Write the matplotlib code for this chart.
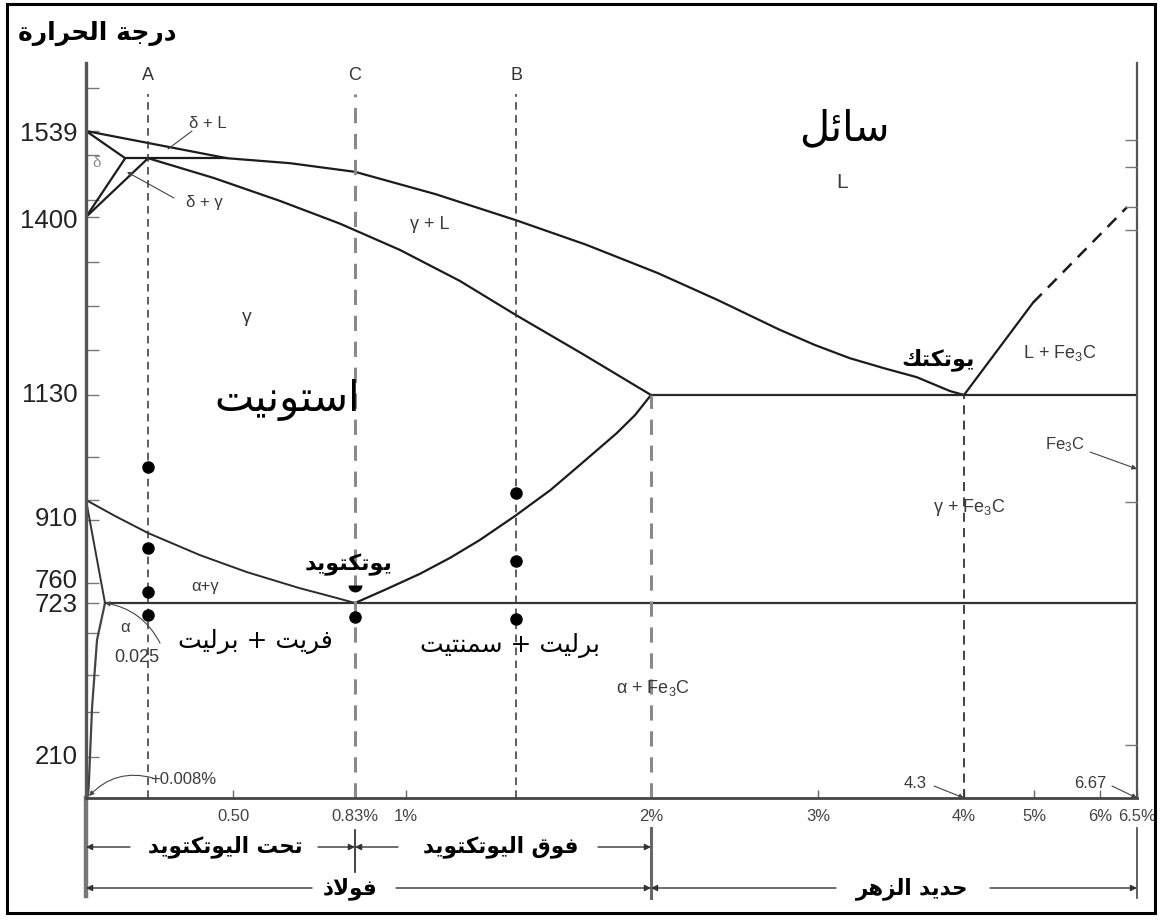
import numpy as np
import matplotlib
matplotlib.use('Agg')
import matplotlib.pyplot as plt
from matplotlib.patches import Rectangle

plt.rcParams['font.family'] = ['Liberation Sans', 'DejaVu Sans']
plt.rcParams['mathtext.fontset'] = 'custom'
plt.rcParams['mathtext.rm'] = 'Liberation Sans'
plt.rcParams['mathtext.default'] = 'regular'

# ---- data: carbon (wt %) and temperature (deg C) ----
liquidus_c = [0, 0.478, 0.654, 0.83, 1.12, 1.45, 1.735, 2.04, 2.40, 2.77, 2.98, 3.28,
              3.58, 3.88, 4.175, 4.3]
liquidus_t = [1539, 1495, 1487, 1473, 1437, 1395, 1358, 1315, 1274, 1229, 1206, 1186,
              1171, 1157, 1136, 1130]
solidus_c = [0.185, 0.429, 0.627, 0.789, 0.98, 1.22, 1.45, 1.722, 2.0]
solidus_t = [1495, 1463, 1426, 1390, 1350, 1303, 1251, 1192, 1130]
delta_top_c, delta_top_t = [0, 0.1], [1539, 1495]
delta_low_c, delta_low_t = [0.1, 0], [1495, 1400]
gamma_delta_c, gamma_delta_t = [0.185, 0], [1495, 1400]
peritectic_c, peritectic_t = [0.1, 0.478], [1495, 1495]
a3_c = [0, 0.062, 0.185, 0.377, 0.538, 0.68, 0.77, 0.83]
a3_t = [910, 881, 850, 810, 779, 750, 734, 723]
acm_c = [0.83, 0.93, 1.057, 1.18, 1.30, 1.445, 1.59, 1.72, 1.86, 1.935, 2.0]
acm_t = [723, 747, 776, 805, 837, 881, 931, 988, 1050, 1088, 1130]
gp_c, gp_t = [0, 0.025], [910, 723]
solvus_c = [0.025, 0.0145, 0.008, 0.0035, 0.002]
solvus_t = [723, 600, 376, 54, 0]
eutectoid_c, eutectoid_t = [0.025, 6.67], [723, 723]
eutectic_c, eutectic_t = [2.0, 6.67], [1130, 1130]
fe3c_liq_c, fe3c_liq_t = [4.3, 4.99], [1130, 1270]
fe3c_liq_dash_c, fe3c_liq_dash_t = [4.99, 6.49], [1270, 1416]

section_names = ['A', 'C', 'B']
section_c = [0.185, 0.83, 1.45]
section_top = 1600
name_t = 1630
limit_c = [2.0, 4.3]          # dashed lines below the eutectic line

dots_a_t = [979, 823, 743, 683]
dots_c_t = [676]
dots_b_t = [925, 799, 670]
half_dot_c_t = 756

xtick_vals = [0.5, 0.83, 1.0, 2.0, 3.0, 4.3, 5.0, 6.0, 6.67]
xtick_labels = ['0.50', '0.83%', '1%', '2%', '3%', '4%', '5%', '6%', '6.5%']
ytick_vals = [210, 723, 760, 910, 1130, 1400, 1539]
ytick_labels = ['210', '723', '760', '910', '1130', '1400', '1539']
yminor_left = [360, 483, 623, 874, 1000, 1198, 1265, 1332, 1427, 1500, 1610]
yminor_right = [250, 906, 1380, 1416, 1481, 1524]

# ---- layout: diagram is drawn on a stretched (non linear) grid ----
W, H = 1162, 923
X_KNOTS = [0, 0.025, 0.5, 0.83, 1.0, 2.0, 3.0, 4.3, 5.0, 6.0, 6.67]
X_PIX = [86, 105, 233, 355, 406, 651, 818, 964, 1034, 1100, 1137]
Y_KNOTS = [0, 210, 723, 910, 1130, 1400, 1539, 1650]
Y_PIX = [798, 757, 603, 500, 395, 217, 131, 63]


def make_scale(knots, pos):
    k = np.asarray(knots, float)
    p = np.asarray(pos, float)
    s0 = (p[1] - p[0]) / (k[1] - k[0])
    s1 = (p[-1] - p[-2]) / (k[-1] - k[-2])

    def fwd(v):
        v = np.asarray(v, float)
        out = np.interp(v, k, p)
        out = np.where(v < k[0], p[0] + (v - k[0]) * s0, out)
        return np.where(v > k[-1], p[-1] + (v - k[-1]) * s1, out)

    def inv(u):
        u = np.asarray(u, float)
        out = np.interp(u, p, k)
        out = np.where(u < p[0], k[0] + (u - p[0]) / s0, out)
        return np.where(u > p[-1], k[-1] + (u - p[-1]) / s1, out)
    return fwd, inv


x_fun = make_scale(X_KNOTS, X_PIX)
y_fun = make_scale(Y_KNOTS, [-p for p in Y_PIX])


def fpos(xp, yp):
    return xp / W, 1 - yp / H


def fy(yp):
    return 1 - yp / H


# ---- Arabic shaping (matplotlib has no complex text layout) ----
AR_FORMS = {
    'ا': ('\uFE8D', '\uFE8E', None, None),
    'ب': ('\uFE8F', '\uFE90', '\uFE91', '\uFE92'),
    'ة': ('\uFE93', '\uFE94', None, None),
    'ت': ('\uFE95', '\uFE96', '\uFE97', '\uFE98'),
    'ج': ('\uFE9D', '\uFE9E', '\uFE9F', '\uFEA0'),
    'ح': ('\uFEA1', '\uFEA2', '\uFEA3', '\uFEA4'),
    'د': ('\uFEA9', '\uFEAA', None, None),
    'ذ': ('\uFEAB', '\uFEAC', None, None),
    'ر': ('\uFEAD', '\uFEAE', None, None),
    'ز': ('\uFEAF', '\uFEB0', None, None),
    'س': ('\uFEB1', '\uFEB2', '\uFEB3', '\uFEB4'),
    'ئ': ('\uFE89', '\uFE8A', '\uFE8B', '\uFE8C'),
    'ف': ('\uFED1', '\uFED2', '\uFED3', '\uFED4'),
    'ق': ('\uFED5', '\uFED6', '\uFED7', '\uFED8'),
    'ك': ('\uFED9', '\uFEDA', '\uFEDB', '\uFEDC'),
    'ل': ('\uFEDD', '\uFEDE', '\uFEDF', '\uFEE0'),
    'م': ('\uFEE1', '\uFEE2', '\uFEE3', '\uFEE4'),
    'ن': ('\uFEE5', '\uFEE6', '\uFEE7', '\uFEE8'),
    'ه': ('\uFEE9', '\uFEEA', '\uFEEB', '\uFEEC'),
    'و': ('\uFEED', '\uFEEE', None, None),
    'ي': ('\uFEF1', '\uFEF2', '\uFEF3', '\uFEF4'),
}


def ar(text):
    res = []
    i = 0
    n = len(text)
    while i < n:
        c = text[i]
        if c not in AR_FORMS:
            res.append(c)
            i += 1
            continue
        prev = text[i - 1] if i > 0 else None
        link_prev = prev in AR_FORMS and AR_FORMS[prev][2] is not None
        if c == 'ل' and i + 1 < n and text[i + 1] == 'ا':
            res.append('\uFEFC' if link_prev else '\uFEFB')
            i += 2
            continue
        nxt = text[i + 1] if i + 1 < n else None
        iso, fin, ini, med = AR_FORMS[c]
        link_next = ini is not None and nxt in AR_FORMS
        if link_prev and link_next:
            res.append(med)
        elif link_prev:
            res.append(fin)
        elif link_next:
            res.append(ini)
        else:
            res.append(iso)
        i += 1
    return ''.join(reversed(res))


# ---- figure ----
fig = plt.figure(figsize=(W / 100, H / 100), dpi=100)
ax = fig.add_axes([86 / W, 1 - 798 / H, (1137 - 86) / W, (798 - 63) / H])
ax.set_xscale('function', functions=x_fun)
ax.set_yscale('function', functions=y_fun)
ax.set_xlim(0, 6.67)
ax.set_ylim(0, 1650)

line = dict(color='#1c1c1c', lw=1.6, solid_capstyle='round', solid_joinstyle='round')
ax.plot(liquidus_c, liquidus_t, **line)
ax.plot(solidus_c, solidus_t, **line)
ax.plot(delta_top_c, delta_top_t, **line)
ax.plot(delta_low_c, delta_low_t, **line)
ax.plot(gamma_delta_c, gamma_delta_t, **line)
ax.plot(peritectic_c, peritectic_t, **line)
ax.plot(a3_c, a3_t, color='#2a2a2a', lw=1.4, solid_joinstyle='round')
ax.plot(acm_c, acm_t, **line)
ax.plot(gp_c, gp_t, color='#333', lw=1.4)
ax.plot(solvus_c, solvus_t, color='#444', lw=1.6, solid_joinstyle='round')
ax.plot(eutectoid_c, eutectoid_t, color='#333', lw=1.6)
ax.plot(eutectic_c, eutectic_t, color='#2a2a2a', lw=1.6)
ax.plot(fe3c_liq_c, fe3c_liq_t, **line)
ax.plot(fe3c_liq_dash_c, fe3c_liq_dash_t, color='#1c1c1c', lw=1.8, ls=(0, (5, 3.5)))

# composition sections A, C, B and the 2% / 4.3% limits
for name, c in zip(section_names, section_c):
    grey = name == 'C'
    ax.plot([c, c], [0, section_top], color='#8a8a8a' if grey else '#333',
            lw=2.2 if grey else 1.1, ls=(0, (5, 3.5)))
    ax.text(c, name_t, name, ha='center', va='center', fontsize=13, color='#333')
for c in limit_c:
    grey = c == 2.0
    ax.plot([c, c], [0, 1130], color='#8a8a8a' if grey else '#333',
            lw=2.2 if grey else 1.3, ls=(0, (5, 3.5)))

ax.plot([section_c[0]] * len(dots_a_t), dots_a_t, 'o', color='black', ms=8)
ax.plot([section_c[1]] * len(dots_c_t), dots_c_t, 'o', color='black', ms=8)
ax.plot([section_c[2]] * len(dots_b_t), dots_b_t, 'o', color='black', ms=8)
ax.plot([section_c[1]], [half_dot_c_t], marker='o', fillstyle='bottom', ms=10,
        mfc='black', mec='none', ls='none')

# axes, ticks
ax.spines['top'].set_visible(False)
ax.spines['left'].set(color='#555', lw=2.4)
ax.spines['bottom'].set(color='#444', lw=2.0)
ax.spines['right'].set(color='#555', lw=1.6)

ax.set_xticks(xtick_vals, xtick_labels)
ax.tick_params(axis='x', direction='in', length=6, width=1, color='#666',
               labelsize=12, labelcolor='#444', pad=8)
ax.set_yticks(ytick_vals, [''] * len(ytick_vals))
ax.set_yticks(yminor_left, minor=True)
ax.tick_params(axis='y', which='both', direction='in', length=9, width=1, color='#777')
ax.xaxis.set_minor_locator(matplotlib.ticker.NullLocator())

ylab_nudge = [0, -1.5, 1.5, -14, 0, -3, -2]
for v, s, dy in zip(ytick_vals, ytick_labels, ylab_nudge):
    ax.annotate(s, xy=(0, v), xycoords=('axes fraction', 'data'), xytext=(-6, dy),
                textcoords='offset points', ha='right', va='center', fontsize=18.5,
                color='#222', annotation_clip=False)

ax2 = ax.twinx()
ax2.set_yscale('function', functions=y_fun)
ax2.set_ylim(0, 1650)
ax2.set_yticks(yminor_right, [''] * len(yminor_right))
ax2.tick_params(axis='y', direction='in', length=9, width=1, color='#777')
for s in ax2.spines.values():
    s.set_visible(False)

# lines below the axis (steel / cast iron brackets)
bx = ax.get_xaxis_transform()


def ay(yp):
    return (798 - yp) / (798 - 63)


ax.plot([0, 0], [0, ay(896)], transform=bx, clip_on=False, color='#777', lw=3.2)
ax.plot([0.83, 0.83], [ay(830), ay(872)], transform=bx, clip_on=False, color='#222', lw=1.2)
ax.plot([2.0, 2.0], [ay(828), ay(898)], transform=bx, clip_on=False, color='#666', lw=2.2)
ax.plot([6.67, 6.67], [ay(828), ay(898)], transform=bx, clip_on=False, color='#444', lw=1.2)

arr = dict(arrowstyle='-|>', color='#333', lw=1.0, mutation_scale=9, shrinkA=0, shrinkB=0)
brackets = [
    (0.0, 847, 130), (0.83, 847, 318), (0.83, 847, 398), (2.0, 847, 598),
    (0.0, 888, 312), (2.0, 888, 396), (2.0, 888, 836), (6.67, 888, 990),
]
for c, yp, xp in brackets:
    ax.annotate('', xy=(c, fy(yp)), xycoords=('data', 'figure fraction'),
                xytext=fpos(xp, yp), textcoords='figure fraction', arrowprops=arr,
                annotation_clip=False)

# ---- texts ----
ar_font = dict(family='DejaVu Sans', ha='center', va='center', color='black')
fig.text(*fpos(97, 33), ar('درجة الحرارة'), fontsize=18, weight='bold', **ar_font)
fig.text(*fpos(844, 128), ar('سائل'), fontsize=30, **ar_font)
fig.text(*fpos(287, 400), ar('استونيت'), fontsize=30, **ar_font)
fig.text(*fpos(938, 360), ar('يوتكتك'), fontsize=16, weight='bold', **ar_font)
fig.text(*fpos(349, 565), ar('يوتكتويد'), fontsize=16, weight='bold', **ar_font)
fig.text(*fpos(255, 642), ar('فريت + برليت'), fontsize=18, **ar_font)
fig.text(*fpos(510, 645), ar('برليت + سمنتيت'), fontsize=18, **ar_font)
fig.text(*fpos(225, 847), ar('تحت اليوتكتويد'), fontsize=15.5, weight='bold', **ar_font)
fig.text(*fpos(501, 847), ar('فوق اليوتكتويد'), fontsize=15.5, weight='bold', **ar_font)
fig.text(*fpos(350, 889), ar('فولاذ'), fontsize=15.5, weight='bold', **ar_font)
fig.text(*fpos(912, 889), ar('حديد الزهر'), fontsize=15.5, weight='bold', **ar_font)

lat = dict(ha='center', va='center', color='#3a3a3a')
fig.text(*fpos(208, 124), 'δ + L', fontsize=12, **lat)
fig.text(*fpos(97, 163), 'δ', fontsize=11, ha='center', va='center', color='#888')
fig.text(*fpos(204, 203), 'δ + γ', fontsize=12, **lat)
fig.text(*fpos(430, 225), 'γ + L', fontsize=13, **lat)
fig.text(*fpos(842, 182), 'L', fontsize=15, **lat)
fig.text(*fpos(247, 318), 'γ', fontsize=14, **lat)
fig.text(*fpos(1060, 353), 'L + Fe$_3$C', fontsize=13, **lat)
fig.text(*fpos(1065, 445), 'Fe$_3$C', fontsize=12, **lat)
fig.text(*fpos(969, 508), 'γ + Fe$_3$C', fontsize=13, **lat)
fig.text(*fpos(653, 688), 'α + Fe$_3$C', fontsize=13, **lat)
fig.text(*fpos(205, 587), 'α+γ', fontsize=12, **lat)
fig.text(*fpos(125, 627), 'α', fontsize=12, **lat)
fig.text(*fpos(137, 658), '0.025', fontsize=13, **lat)
fig.text(*fpos(150, 779), '+0.008%', fontsize=12, ha='left', va='center', color='#3a3a3a')
fig.text(*fpos(915, 784), '4.3', fontsize=12, **lat)
fig.text(*fpos(1090, 783), '6.67', fontsize=12, **lat)

thin = dict(arrowstyle='-', color='#444', lw=0.8, shrinkA=0, shrinkB=0)
head = dict(arrowstyle='-|>', color='#444', lw=0.8, mutation_scale=7, shrinkA=0, shrinkB=0)
ff = 'figure fraction'
ax.annotate('', xy=fpos(168, 149), xycoords=ff, xytext=fpos(192, 131), textcoords=ff,
            arrowprops=thin, annotation_clip=False)
ax.annotate('', xy=fpos(127, 172), xycoords=ff, xytext=fpos(174, 198), textcoords=ff,
            arrowprops=head, annotation_clip=False)
ax.annotate('', xy=(0.025, 723), xycoords='data', xytext=fpos(160, 643), textcoords=ff,
            arrowprops=dict(head, connectionstyle='arc3,rad=0.25'), annotation_clip=False)
ax.annotate('', xy=(0.004, 10), xycoords='data', xytext=fpos(153, 778), textcoords=ff,
            arrowprops=dict(head, connectionstyle='arc3,rad=0.3'), annotation_clip=False)
ax.annotate('', xy=(4.3, 0), xycoords='data', xytext=fpos(934, 786), textcoords=ff,
            arrowprops=head, annotation_clip=False)
ax.annotate('', xy=(6.67, 0), xycoords='data', xytext=fpos(1112, 786), textcoords=ff,
            arrowprops=head, annotation_clip=False)
ax.annotate('', xy=(6.67, 975), xycoords='data', xytext=fpos(1090, 452), textcoords=ff,
            arrowprops=head, annotation_clip=False)

fig.patches.append(Rectangle((7 / W, 1 - 913 / H), (1155 - 7) / W, (913 - 4) / H,
                             transform=fig.transFigure, fill=False, lw=2.2, ec='black'))

fig.savefig('out.png', dpi=100, facecolor='white')
